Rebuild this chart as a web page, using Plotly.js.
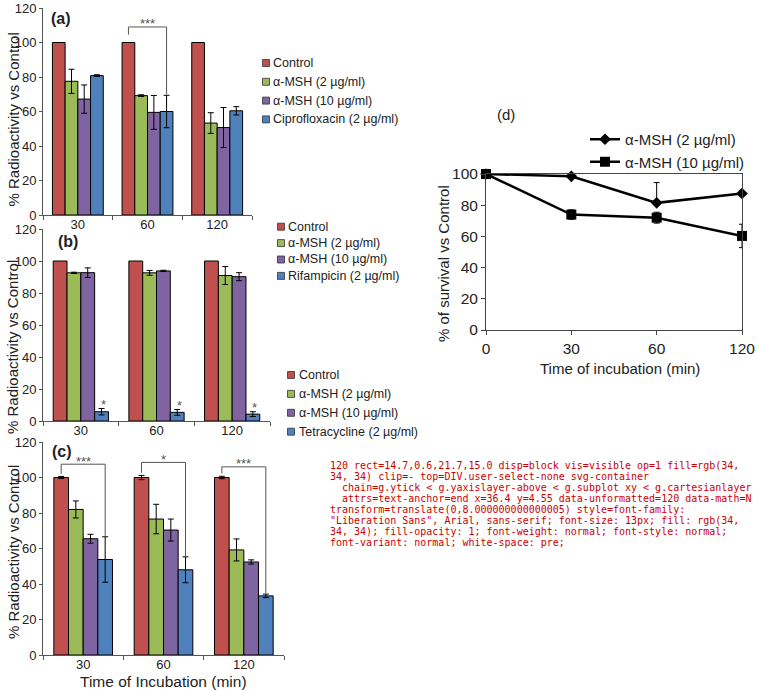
<!DOCTYPE html>
<html><head><meta charset="utf-8">
<script src="https://cdn.plot.ly/plotly-3.0.1.min.js"></script>
<style>html,body{margin:0;padding:0;background:#fff}#chart{width:759px;height:690px}#dbg{position:absolute;left:330px;top:460px;width:425px;font:10px monospace;white-space:pre-wrap;color:#c00}</style>
</head><body><div id="chart"></div><div id="dbg"></div><script>
// ---------- DATA ----------
const categories = ['30', '60', '120'];
const barTicks = [0, 20, 40, 60, 80, 100, 120];

const namesA = ['Control', 'α-MSH (2 µg/ml)', 'α-MSH (10 µg/ml)', 'Ciprofloxacin (2 µg/ml)'];
const aControl = [100, 100, 100];
const aMsh2 = [77.5, 69.2, 53.3];
const aMsh2Err = [7.0, 0.5, 6.0];
const aMsh10 = [67.2, 59.5, 50.7];
const aMsh10Err = [8.2, 9.8, 11.6];
const aCipro = [80.8, 60.0, 60.4];
const aCiproErr = [0.5, 9.4, 2.4];
const sigA = [{cat: 1, label: '***', top: 109}];

const namesB = ['Control', 'α-MSH (2 µg/ml)', 'α-MSH (10 µg/ml)', 'Rifampicin (2 µg/ml)'];
const bControl = [100, 100, 100];
const bMsh2 = [92.6, 92.6, 90.9];
const bMsh2Err = [0.4, 1.5, 5.6];
const bMsh10 = [92.7, 93.8, 90.2];
const bMsh10Err = [3.0, 0.4, 2.5];
const bRif = [5.8, 5.4, 4.3];
const bRifErr = [2.0, 1.8, 1.5];
const starsB = ['*', '*', '*'];

const namesC = ['Control', 'α-MSH (2 µg/ml)', 'α-MSH (10 µg/ml)', 'Tetracycline (2 µg/ml)'];
const cControl = [100, 100, 100];
const cControlErr = [0.6, 1.2, 0.7];
const cMsh2 = [82.0, 76.6, 59.2];
const cMsh2Err = [4.8, 8.3, 6.2];
const cMsh10 = [65.5, 70.4, 52.4];
const cMsh10Err = [2.5, 6.2, 1.2];
const cTet = [53.8, 48.0, 33.3];
const cTetErr = [12.8, 7.3, 1.0];
const sigC = [{cat: 0, label: '***', top: 107.5}, {cat: 1, label: '*', top: 108.5}, {cat: 2, label: '***', top: 106}];

const dTimes = ['0', '30', '60', '120'];
const dTicks = [0, 20, 40, 60, 80, 100];
const namesD = ['α-MSH (2 µg/ml)', 'α-MSH (10 µg/ml)'];
const dMsh2 = [100, 98.5, 81.5, 87.5];
const dMsh2ErrPlus = [0, 1, 13, 2];
const dMsh10 = [100, 74, 72, 60.3];
const dMsh10Err = [0, 3, 3.5, 7.5];

// ---------- STYLE / LAYOUT ----------
const W = 759, H = 690;
const px = x => x / W, py = y => 1 - y / H;
const FONT = 'Liberation Sans, Arial, sans-serif';
const TXT = '#222';
const AXC = '#555';
const colors = ['#C0504D', '#9BBB59', '#8064A2', '#4F81BD'];
const BARGAP = 0.27;
const groupW = 1 - BARGAP, barW = groupW / 4;
const offset = i => -groupW / 2 + barW * (i + 0.5);
const catIdx = categories.map((_, k) => k);
const Y_MAX = barTicks[barTicks.length - 1];
const frames = {a: [43, 252, 215, 8], b: [43, 270, 421, 229], c: [43, 284, 655, 442]};

const traces = [];
const shapes = [];
const annotations = [];

function addBars(values, errors, names, xa, ya) {
  values.forEach((v, i) => {
    traces.push({
      type: 'bar', x: catIdx, y: v, name: names[i], xaxis: xa, yaxis: ya,
      showlegend: false, hoverinfo: 'skip',
      marker: {color: colors[i], line: {color: '#000', width: 1}},
      error_y: errors[i] ? {type: 'data', array: errors[i], visible: true, color: '#000', thickness: 1, width: 3} : {visible: false}
    });
  });
}
addBars([aControl, aMsh2, aMsh10, aCipro], [null, aMsh2Err, aMsh10Err, aCiproErr], namesA, 'x', 'y');
addBars([bControl, bMsh2, bMsh10, bRif], [null, bMsh2Err, bMsh10Err, bRifErr], namesB, 'x2', 'y2');
addBars([cControl, cMsh2, cMsh10, cTet], [cControlErr, cMsh2Err, cMsh10Err, cTetErr], namesC, 'x3', 'y3');

function addBrackets(sigs, ctrl, ctrlErr, last, lastErr, xa, ya, leftGap) {
  sigs.forEach(s => {
    const xl = s.cat + offset(0), xr = s.cat + offset(3);
    const yl = ctrl[s.cat] + (ctrlErr ? ctrlErr[s.cat] : 0) + leftGap;
    const yr = last[s.cat] + lastErr[s.cat] + 0.5;
    shapes.push({type: 'path', xref: xa, yref: ya, path: `M ${xl},${yl} V ${s.top} H ${xr} V ${yr}`, line: {color: AXC, width: 1}});
    annotations.push({xref: xa, yref: ya, x: (xl + xr) / 2, y: s.top, text: s.label,
      showarrow: false, yanchor: 'middle', yshift: 3, font: {family: FONT, size: 13, color: '#555'}});
  });
}
addBrackets(sigA, aControl, null, aCipro, aCiproErr, 'x', 'y', 4.5);
addBrackets(sigC, cControl, cControlErr, cTet, cTetErr, 'x3', 'y3', 1.5);

starsB.forEach((s, k) => {
  annotations.push({xref: 'x2', yref: 'y2', x: k + offset(3), y: bRif[k] + bRifErr[k], text: s,
    showarrow: false, yanchor: 'middle', yshift: 4, xshift: 2, font: {family: FONT, size: 13, color: '#555'}});
});

const dIdx = dTimes.map((_, k) => k);
traces.push({type: 'scatter', mode: 'lines+markers', x: dIdx, y: dMsh2, name: namesD[0], xaxis: 'x4', yaxis: 'y4', cliponaxis: false, hoverinfo: 'skip',
  line: {color: '#000', width: 2.5}, marker: {symbol: 'diamond', size: 9, color: '#000'},
  error_y: {type: 'data', symmetric: false, array: dMsh2ErrPlus, arrayminus: dMsh2ErrPlus.map(() => 0), color: '#000', thickness: 1, width: 3}});
traces.push({type: 'scatter', mode: 'lines+markers', x: dIdx, y: dMsh10, name: namesD[1], xaxis: 'x4', yaxis: 'y4', cliponaxis: false, hoverinfo: 'skip',
  line: {color: '#000', width: 2.5}, marker: {symbol: 'square', size: 10, color: '#000'},
  error_y: {type: 'data', array: dMsh10Err, color: '#000', thickness: 1, width: 3}});

function addLegend(names, cx, tx, y0, dy) {
  names.forEach((n, i) => {
    const cy = y0 + i * dy, s = 3.5;
    shapes.push({type: 'rect', xref: 'paper', yref: 'paper', x0: px(cx - s), x1: px(cx + s), y0: py(cy + s), y1: py(cy - s),
      fillcolor: colors[i], line: {color: '#333', width: 0.8}});
    annotations.push({xref: 'paper', yref: 'paper', x: px(tx - 2), y: py(cy), text: n,
      showarrow: false, xanchor: 'left', yanchor: 'middle', font: {family: FONT, size: 12.5, color: TXT}});
  });
}
addLegend(namesA, 266, 273, 63, 18.8);
addLegend(namesB, 281, 288, 226.7, 16.4);
addLegend(namesC, 291, 299, 375, 18.9);

const panelLabels = [['(a)', 61, 19, true], ['(b)', 68, 241, true], ['(c)', 62, 452, true], ['(d)', 506, 115, false]];
panelLabels.forEach(([t, x, y, bold]) => annotations.push({xref: 'paper', yref: 'paper', x: px(x), y: py(y), text: bold ? '<b>' + t + '</b>' : t,
  showarrow: false, xanchor: 'center', yanchor: 'middle', font: {family: FONT, size: bold ? 16 : 15, color: TXT}}));

const yTitles = [['% Radioactivity vs Control', 13, 119.5], ['% Radioactivity vs Control', 13, 347], ['% Radioactivity vs Control', 13, 552], ['% of survival vs Control', 443, 264]];
yTitles.forEach(([t, x, y]) => annotations.push({xref: 'paper', yref: 'paper', x: px(x), y: py(y), text: t, textangle: -90,
  showarrow: false, xanchor: 'center', yanchor: 'middle', font: {family: FONT, size: 15, color: TXT}}));
annotations.push({xref: 'paper', yref: 'paper', x: px(163.5), y: py(681), text: 'Time of Incubation (min)',
  showarrow: false, xanchor: 'center', yanchor: 'middle', font: {family: FONT, size: 15.5, color: TXT}});
annotations.push({xref: 'paper', yref: 'paper', x: px(620), y: py(368), text: 'Time of incubation (min)',
  showarrow: false, xanchor: 'center', yanchor: 'middle', font: {family: FONT, size: 15, color: TXT}});

function barX(f, anchor) {
  return {domain: [px(f[0]), px(f[1])], anchor: anchor, range: [-0.5, 2.5], tickmode: 'array', tickvals: catIdx, ticktext: categories,
    ticks: '', showline: true, linecolor: AXC, linewidth: 1, showgrid: false, zeroline: false, fixedrange: true,
    ticklabeloverflow: 'allow', ticklabelstandoff: -3, tickfont: {family: FONT, size: 13, color: TXT},
    minor: {tickmode: 'array', tickvals: [-0.5, 0.5, 1.5, 2.5], ticks: 'outside', ticklen: 4, tickcolor: AXC, tickwidth: 1, showgrid: false}};
}
function barY(f, anchor) {
  return {domain: [py(f[2]), py(f[3])], anchor: anchor, range: [0, Y_MAX], tickmode: 'array', tickvals: barTicks,
    ticktext: barTicks.map(String),
    ticks: 'outside', ticklen: 3, tickcolor: AXC, showline: true, linecolor: AXC, linewidth: 1, showgrid: false, zeroline: false,
    ticklabeloverflow: 'allow', fixedrange: true, tickfont: {family: FONT, size: 13, color: TXT}};
}

const layout = {
  width: W, height: H, margin: {l: 0, r: 0, t: 0, b: 0}, paper_bgcolor: '#fff', plot_bgcolor: 'rgba(0,0,0,0)',
  barmode: 'group', bargap: BARGAP, bargroupgap: 0, font: {family: FONT, color: TXT},
  xaxis: barX(frames.a, 'y'), yaxis: barY(frames.a, 'x'),
  xaxis2: barX(frames.b, 'y2'), yaxis2: barY(frames.b, 'x2'),
  xaxis3: barX(frames.c, 'y3'), yaxis3: barY(frames.c, 'x3'),
  xaxis4: {domain: [px(486), px(742)], anchor: 'y4', range: [0, 3], tickmode: 'array', tickvals: dIdx, ticktext: dTimes,
    ticks: 'outside', ticklen: 4, tickcolor: '#444', showline: true, mirror: true, linecolor: '#444', linewidth: 1,
    ticklabeloverflow: 'allow', showgrid: false, zeroline: false, fixedrange: true, tickfont: {family: FONT, size: 15.5, color: TXT}},
  yaxis4: {domain: [py(330), py(174)], anchor: 'x4', range: [0, 100], tickmode: 'array', tickvals: dTicks, ticktext: dTicks.map(String),
    ticks: 'outside', ticklen: 4, tickcolor: '#444', showline: true, mirror: true, linecolor: '#444', linewidth: 1,
    ticklabeloverflow: 'allow', showgrid: false, zeroline: false, fixedrange: true, tickfont: {family: FONT, size: 15.5, color: TXT}},
  legend: {x: px(585), y: py(123), xanchor: 'left', yanchor: 'top', bgcolor: 'rgba(0,0,0,0)', tracegroupgap: 0,
    font: {family: FONT, size: 15, color: TXT}},
  shapes: shapes, annotations: annotations
};

Plotly.newPlot('chart', traces, layout, {displayModeBar: false, staticPlot: true}).then(() => {
  const out = [];
  document.querySelectorAll('g.ytick text').forEach(el => {
    if (el.textContent !== '120') return;
    const r = el.getBoundingClientRect();
    const cs = getComputedStyle(el);
    const top = document.elementFromPoint(r.left + r.width / 2, r.top + r.height / 2);
    out.push('120 rect=' + [r.left, r.top, r.width, r.height].map(v => v.toFixed(1)).join(',') +
      ' disp=' + cs.display + ' vis=' + cs.visibility + ' op=' + cs.opacity + ' fill=' + cs.fill +
      ' clip=' + (el.closest('[clip-path]') ? el.closest('[clip-path]').getAttribute('clip-path') : '-') +
      ' top=' + (top ? top.tagName + '.' + (top.getAttribute('class') || '') : 'null'));
    let p = el.parentNode, chain = [];
    for (let i = 0; i < 4 && p; i++) { chain.push(p.tagName + '.' + (p.getAttribute('class') || '') + (p.getAttribute('style') ? '[' + p.getAttribute('style') + ']' : '')); p = p.parentNode; }
    out.push('  chain=' + chain.join(' < '));
    out.push('  attrs=' + Array.from(el.attributes).map(a => a.name + '=' + a.value).join(' '));
  });
  document.getElementById('dbg').textContent = out.join('\n');
});
</script></body></html>
